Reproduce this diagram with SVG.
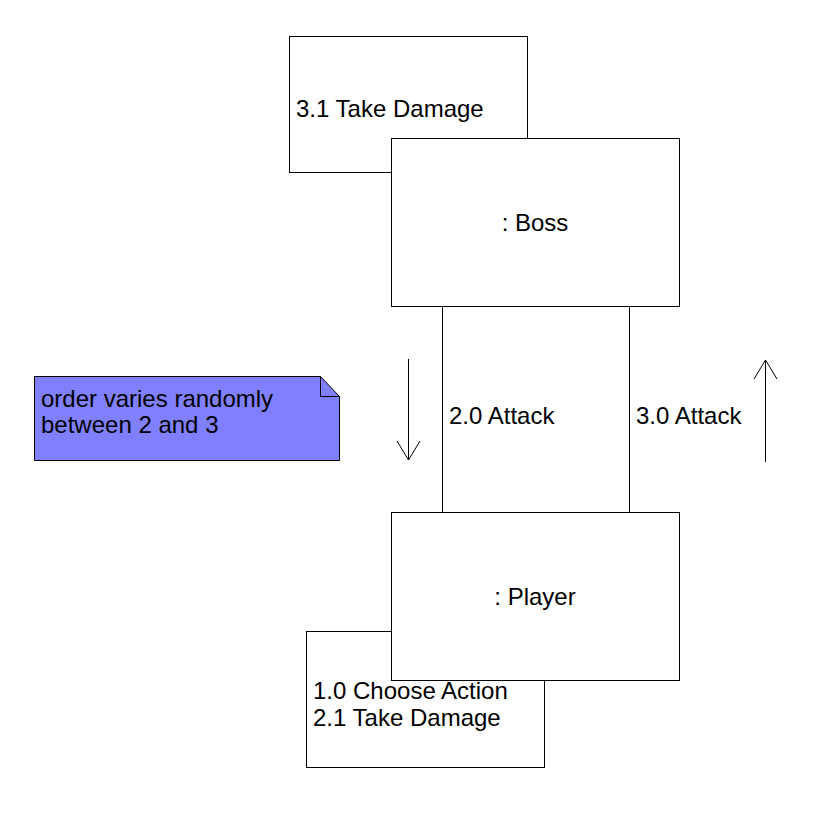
<svg xmlns="http://www.w3.org/2000/svg" width="819" height="819" viewBox="0 0 819 819">
<style>
.box{fill:#fff;stroke:#000;stroke-width:1}
.ln{fill:none;stroke:#000;stroke-width:1}
text{font-family:"Liberation Sans",Arial,sans-serif;font-size:24px;fill:#000}
</style>
<rect width="819" height="819" fill="#fff"/>
<g id="connectors">
<line class="ln" x1="442.5" y1="306" x2="442.5" y2="512"/>
<line class="ln" x1="629.5" y1="306" x2="629.5" y2="512"/>
<text x="449" y="424">2.0 Attack</text>
<text x="636" y="424">3.0 Attack</text>
<path class="ln" d="M408.5 359V460M397 441L408.5 460L420 441"/>
<path class="ln" d="M765.5 462V360M754 379L765.5 360L777 379"/>
</g>
<g id="boss-methods">
<rect class="box" x="289.5" y="36.5" width="238" height="136"/>
<text x="296" y="117">3.1 Take Damage</text>
</g>
<g id="boss">
<rect class="box" x="391.5" y="138.5" width="288" height="168"/>
<text x="535" y="231" text-anchor="middle">: Boss</text>
</g>
<g id="player-methods">
<rect class="box" x="306.5" y="631.5" width="238" height="136"/>
<text x="313" y="699">1.0 Choose Action</text>
<text x="313" y="726">2.1 Take Damage</text>
</g>
<g id="player">
<rect class="box" x="391.5" y="512.5" width="288" height="168"/>
<text x="535" y="605" text-anchor="middle">: Player</text>
</g>
<g id="note">
<path d="M34.5 376.5H320.5L339.5 396.5V460.5H34.5Z" fill="#8080FF" stroke="#000"/>
<path class="ln" d="M320.5 376.5V396.5H339.5"/>
<text x="41" y="407">order varies randomly</text>
<text x="41" y="433">between 2 and 3</text>
</g>
</svg>
